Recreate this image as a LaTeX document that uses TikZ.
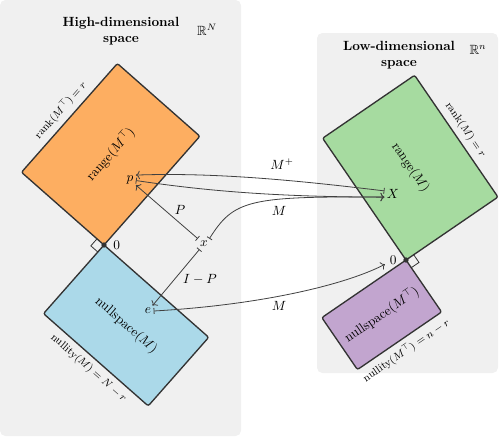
\documentclass[tikz,border=0pt]{standalone}
\usepackage{amsmath,amssymb}
\usetikzlibrary{positioning,calc,arrows.meta}

\definecolor{panelgray}{RGB}{240,240,240}
\definecolor{edgegray}{RGB}{51,51,51}
\definecolor{arrowgray}{RGB}{64,64,64}
\definecolor{rangeorange}{RGB}{253,174,97}
\definecolor{nullblue}{RGB}{171,217,233}
\definecolor{rangegreen}{RGB}{166,219,160}
\definecolor{nullpurple}{RGB}{194,165,207}

\tikzset{every picture/.style={line width=0.75pt}}
\tikzset{
  panel/.style={fill=panelgray, draw=none, rounded corners=4pt},
  subspace/.style={draw=edgegray, line width=1pt, rounded corners=1.5pt, inner sep=0pt, outer sep=0pt},
  sidelabel/.style={font=\footnotesize, inner sep=4pt},
  vec/.style={inner sep=1.5pt},
  mapping/.style={{Bar[width=4.5pt]}-{To[length=3pt]}, draw=arrowgray, line width=0.6pt},
  origin/.style={circle, fill=edgegray, inner sep=0pt, minimum size=4pt},
  corner/.style={draw=edgegray, line width=0.6pt},
}

\begin{document}
\begin{tikzpicture}[x=0.75pt,y=0.75pt,yscale=-1,xscale=1]
	\useasboundingbox (0,0) rectangle (499,437);

	%Shape: Rectangle [panels]
	\path[panel] (0,0) rectangle (241,436);
	\path[panel] (317,33) rectangle (498,373);

	% Text Node
	\node[align=center, font=\bfseries] (hightitle) at (121,31) {High-dimensional\\space};
	\node (RN) at (207,30) {$\mathbb{R}^N$};
	\node[align=center, font=\bfseries] (lowtitle) at (399,55) {Low-dimensional\\space};
	\node (Rn) at (478,50) {$\mathbb{R}^n$};

	% origins
	\coordinate (oL) at (104,245);
	\coordinate (oR) at (406,260);

	%Shape: subspaces of R^N
	\node[subspace, fill=rangeorange, rotate=48.6, minimum width=108.75pt, minimum height=82.5pt, anchor=south west] (rangeMT) at (oL) {range$(M^\top)$};
	\node[subspace, fill=nullblue, rotate=-41.4, minimum width=104.7pt, minimum height=68.6pt, anchor=north west] (nullM) at (oL) {nullspace$(M)$};
	\node[sidelabel, rotate=48.6, anchor=south] (rankMT) at (rangeMT.north) {rank$(M^\top) = r$};
	\node[sidelabel, rotate=-41.4, anchor=north] (nullityM) at (nullM.south) {nullity$(M) = N - r$};

	%Shape: subspaces of R^n
	\node[subspace, fill=rangegreen, rotate=-55.6, minimum width=110.7pt, minimum height=83.6pt, anchor=south east] (rangeM) at (oR) {range$(M)$};
	\node[subspace, fill=nullpurple, rotate=34.4, minimum width=76.5pt, minimum height=47.25pt, anchor=north east] (nullMT) at (oR) {nullspace$(M^\top)$};
	\node[sidelabel, rotate=-55.6, anchor=south] (rankM) at (rangeM.north) {rank$(M) = r$};
	\node[sidelabel, rotate=34.4, anchor=north] (nullityMT) at (nullMT.south) {nullity$(M^\top) = n - r$};

	% right angles
	\coordinate (aL) at ($(oL)!7pt!(rangeMT.north west)$);
	\coordinate (bL) at ($(oL)!7pt!(nullM.south west)$);
	\draw[corner] (aL) -- ($(aL)+(bL)-(oL)$) -- (bL);
	\coordinate (aR) at ($(oR)!7pt!(rangeM.north east)$);
	\coordinate (bR) at ($(oR)!7pt!(nullMT.south east)$);
	\draw[corner] (aR) -- ($(aR)+(bR)-(oR)$) -- (bR);

	\node[origin] (dotL) at (oL) {};
	\node[right=1pt of dotL] (zeroL) {$0$};
	\node[origin] (dotR) at (oR) {};
	\node[left=1pt of dotR] (zeroR) {$0$};

	% vectors
	\node[vec] (p) at (130,180) {$p$};
	\node[vec] (x) at (204,244) {$x$};
	\node[vec] (e) at (148,311) {$e$};
	\node[vec] (X) at (393,194) {$X$};

	%Straight Lines
	\draw[mapping] (x) -- (p);
	\draw[mapping] (x) -- (e);
	%Curve Lines
	\draw[mapping] (X.160) .. controls (310,182) and (220,172) .. (p.40);
	\draw[mapping] (p.-5) .. controls (200,190) and (270,197) .. (X.200);
	\draw[mapping] (x.45) .. controls (234,200) and (248,196) .. (X.200);
	\draw[mapping] (e.east) .. controls (260,305) and (345,285) .. (zeroR);

	% Text Node
	\node (Plab) at (180,210) {$P$};
	\node (IPlab) at (200,279) {$I - P$};
	\node (Mplus) at (282,164) {$M^{+}$};
	\node (Mtop) at (279,211) {$M$};
	\node (Mbot) at (279,306) {$M$};

\end{tikzpicture}
\end{document}
